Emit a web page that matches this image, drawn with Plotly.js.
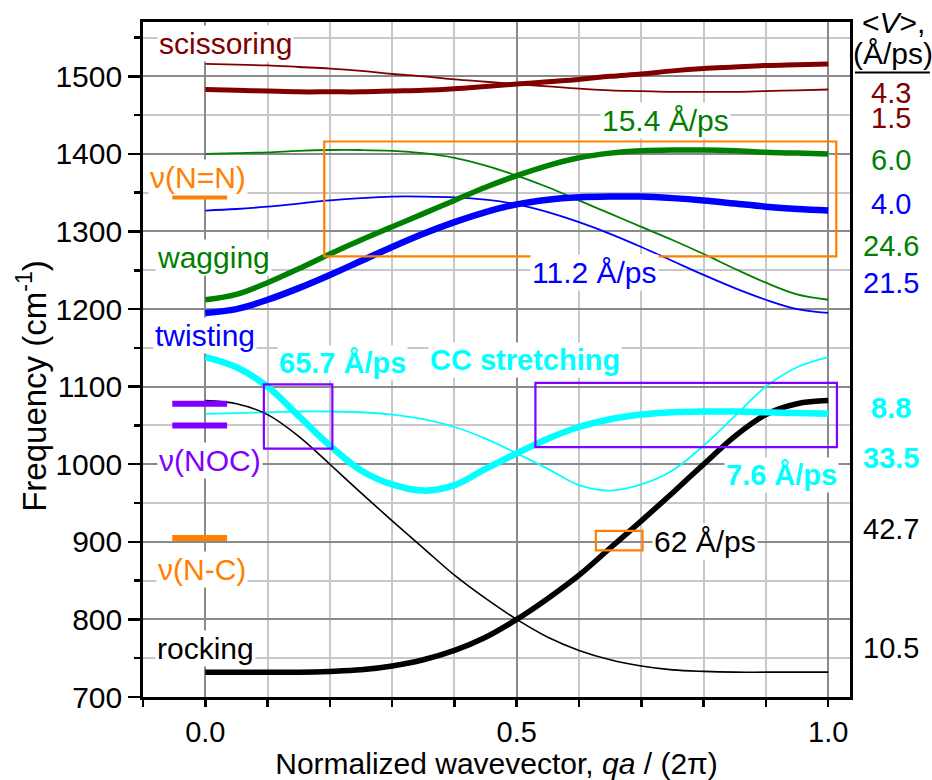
<!DOCTYPE html>
<html>
<head>
<meta charset="utf-8">
<script src="https://cdn.plot.ly/plotly-3.0.1.min.js"></script>
<style>html,body{margin:0;padding:0;background:#fff;}#chart{width:932px;height:780px;}</style>
</head>
<body>
<div id="chart"></div>
<script>
// Normalized wavevector qa/(2pi)
const qa = [0, 0.05, 0.1, 0.15, 0.2, 0.25, 0.3, 0.35, 0.4, 0.45, 0.5, 0.55, 0.6, 0.65, 0.7, 0.75, 0.8, 0.85, 0.9, 0.95, 1.0];

// Frequencies (cm^-1)
const scissThick = [1483, 1482, 1481, 1480, 1480, 1480, 1481, 1482, 1484, 1487, 1490, 1493, 1496, 1500, 1503, 1507, 1510, 1512, 1514, 1515, 1516];
const scissThin  = [1516, 1515, 1514, 1512, 1510, 1507, 1503, 1500, 1496, 1493, 1490, 1487, 1484, 1482, 1481, 1480, 1480, 1480, 1481, 1482, 1483];
const wagThick   = [1212, 1219, 1234, 1252, 1271, 1289, 1306, 1323, 1340, 1357, 1372, 1385, 1395, 1401, 1404, 1405, 1405, 1404, 1402, 1401, 1400];
const wagThin    = [1400, 1401, 1402, 1404, 1405, 1405, 1404, 1401, 1395, 1385, 1372, 1357, 1340, 1323, 1306, 1289, 1271, 1252, 1234, 1219, 1212];
const twistThick = [1195, 1200, 1212, 1227, 1244, 1262, 1280, 1297, 1312, 1325, 1335, 1341, 1344, 1345, 1345, 1343, 1340, 1336, 1332, 1329, 1327];
const twistThin  = [1327, 1329, 1332, 1336, 1340, 1343, 1345, 1345, 1344, 1341, 1335, 1325, 1312, 1297, 1280, 1262, 1244, 1227, 1212, 1200, 1195];
const ccThick    = [1138, 1125, 1100, 1062, 1024, 992, 974, 966, 973, 994, 1014, 1033, 1048, 1058, 1064, 1067, 1068, 1068, 1067, 1066, 1065];
const ccThin     = [1065, 1066, 1067, 1068, 1068, 1067, 1064, 1058, 1048, 1033, 1014, 994, 973, 966, 974, 992, 1024, 1062, 1100, 1125, 1138];
const rockThick  = [732, 732, 732, 732, 733, 735, 740, 748, 760, 777, 800, 827, 857, 892, 927, 963, 1000, 1036, 1064, 1078, 1082];
const rockThin   = [1082, 1078, 1064, 1036, 1000, 963, 927, 892, 857, 827, 800, 777, 760, 748, 740, 735, 733, 732, 732, 732, 732];

// Experimental bands (cm^-1)
const expNN  = [1345];
const expNOC = [1078, 1050];
const expNC  = [905];

// Group velocities <V> (Å/ps) listed at right
const vLabels = ['4.3', '1.5', '6.0', '4.0', '24.6', '21.5', '8.8', '33.5', '42.7', '10.5'];

const C = {sc: '#800000', wag: '#008000', tw: '#0000ff', cc: '#00ffff', rock: '#000000', or: '#ff8000', pu: '#8000ff'};
const FONT = 'Liberation Sans, Arial, Helvetica, sans-serif';

function curve(y, color, w) {
  return {x: qa, y: y, type: 'scatter', mode: 'lines', line: {color: color, width: w, shape: 'spline', smoothing: 1}, hoverinfo: 'skip', showlegend: false};
}
function bar(yv, color) {
  return {x: [-0.053, 0.035], y: [yv, yv], type: 'scatter', mode: 'lines', line: {color: color, width: 6}, hoverinfo: 'skip', showlegend: false};
}

const traces = [
  curve(scissThin, C.sc, 1.8),
  curve(wagThin, C.wag, 1.8),
  curve(twistThin, C.tw, 1.8),
  curve(ccThin, C.cc, 1.8),
  curve(rockThin, C.rock, 1.6),
  curve(rockThick, C.rock, 5.5),
  curve(twistThick, C.tw, 6.5),
  curve(wagThick, C.wag, 5.5),
  curve(ccThick, C.cc, 6.5),
  curve(scissThick, C.sc, 5),
  bar(expNN[0], C.or),
  bar(expNOC[0], C.pu),
  bar(expNOC[1], C.pu),
  bar(expNC[0], C.or)
];

function ann(text, x, y, color, opts) {
  return Object.assign({text: text, x: x, y: y, xref: 'x', yref: 'y', showarrow: false,
    font: {family: FONT, size: 30, color: color}, bgcolor: 'rgba(255,255,255,1)', borderpad: 1,
    xanchor: 'center', yanchor: 'middle'}, opts || {});
}

const vY = [1479, 1446, 1392, 1336, 1281, 1233, 1072, 1008, 917, 763];
const vCol = [C.sc, C.sc, C.wag, C.tw, C.wag, C.tw, C.cc, C.cc, C.rock, C.rock];

const annotations = [
  ann('scissoring', 0.032, 1542, C.sc),
  ann('\u03bd(N=N)', -0.011, 1370, C.or),
  ann('wagging', 0.013, 1266, C.wag),
  ann('twisting', 0.0, 1166, C.tw),
  ann('\u03bd(NOC)', 0.008, 1005, C.pu),
  ann('\u03bd(N-C)', -0.006, 864, C.or),
  ann('rocking', 0.0, 763, C.rock),
  ann('15.4 \u00c5/ps', 0.738, 1443, C.wag),
  ann('11.2 \u00c5/ps', 0.625, 1247, C.tw),
  ann('<b>65.7 \u00c5/ps</b>', 0.22, 1131, C.cc, {font: {family: FONT, size: 29, color: C.cc}}),
  ann('<b>CC stretching</b>', 0.514, 1134, C.cc, {font: {family: FONT, size: 29, color: C.cc}}),
  ann('<b>7.6 \u00c5/ps</b>', 0.925, 986, C.cc, {font: {family: FONT, size: 29, color: C.cc}}),
  ann('62 \u00c5/ps', 0.802, 900, C.rock),
  ann('&lt;<i>V</i>&gt;,', 1.061, 1569, '#000', {xref: 'paper', bgcolor: 'rgba(0,0,0,0)', borderpad: 0}),
  ann('(\u00c5/ps)', 1.061, 1529, '#000', {xref: 'paper', bgcolor: 'rgba(0,0,0,0)', borderpad: 0}),
  ann('Frequency (cm<sup>-1</sup>)', -0.157, 0.461, '#000', {xref: 'paper', yref: 'paper', textangle: -90, bgcolor: 'rgba(0,0,0,0)', font: {family: FONT, size: 33, color: '#000'}})
];
vLabels.forEach(function (t, i) {
  const bold = (vCol[i] === C.cc);
  annotations.push(ann(bold ? '<b>' + t + '</b>' : t, 1.058, vY[i], vCol[i], {xref: 'paper', bgcolor: 'rgba(0,0,0,0)', borderpad: 0, font: {family: FONT, size: 29, color: vCol[i]}}));
});

function rect(x0, x1, y0, y1, color) {
  return {type: 'rect', xref: 'x', yref: 'y', x0: x0, x1: x1, y0: y0, y1: y1, line: {color: color, width: 2.2}, fillcolor: 'rgba(0,0,0,0)', layer: 'above'};
}
const shapes = [
  rect(0.191, 1.013, 1268, 1416, C.or),
  rect(0.094, 0.204, 1020, 1103, C.pu),
  rect(0.530, 1.014, 1022, 1105, C.pu),
  rect(0.627, 0.702, 889, 914, C.or),
  {type: 'line', xref: 'paper', yref: 'y', x0: 1.007, x1: 1.113, y0: 1505, y1: 1505, line: {color: '#000', width: 2}}
];

const layout = {
  width: 932, height: 780,
  margin: {l: 143, r: 82, t: 22, b: 83},
  paper_bgcolor: '#fff', plot_bgcolor: '#fff',
  font: {family: FONT, size: 30, color: '#000'},
  showlegend: false,
  xaxis: {
    range: [-0.1, 1.035], tick0: 0, dtick: 0.5, tickformat: '.1f',
    ticks: 'outside', ticklen: 7, tickwidth: 2.5, tickcolor: '#000',
    showline: true, linewidth: 2.8, linecolor: '#000', mirror: true,
    showgrid: true, gridcolor: '#8a8a8a', gridwidth: 2, zeroline: false,
    tickfont: {family: FONT, size: 29},
    minor: {dtick: 0.1, ticks: 'outside', ticklen: 7, tickwidth: 2.5, tickcolor: '#000', showgrid: true, gridcolor: '#c8c8c8', gridwidth: 2},
    title: {text: 'Normalized wavevector, <i>qa</i> / (2\u03c0)', font: {family: FONT, size: 30}, standoff: 7}
  },
  yaxis: {
    range: [700, 1570], tick0: 0, dtick: 100,
    ticks: 'outside', ticklen: 12, tickwidth: 2.5, tickcolor: '#000',
    showline: true, linewidth: 2.8, linecolor: '#000', mirror: true,
    showgrid: true, gridcolor: '#8a8a8a', gridwidth: 2, zeroline: false,
    tickfont: {family: FONT, size: 30},
    minor: {dtick: 50, ticks: 'outside', ticklen: 6, tickwidth: 2.5, tickcolor: '#000', showgrid: true, gridcolor: '#c8c8c8', gridwidth: 2}
  },
  annotations: annotations,
  shapes: shapes
};

Plotly.newPlot('chart', traces, layout, {displayModeBar: false, staticPlot: true});
</script>
</body>
</html>
